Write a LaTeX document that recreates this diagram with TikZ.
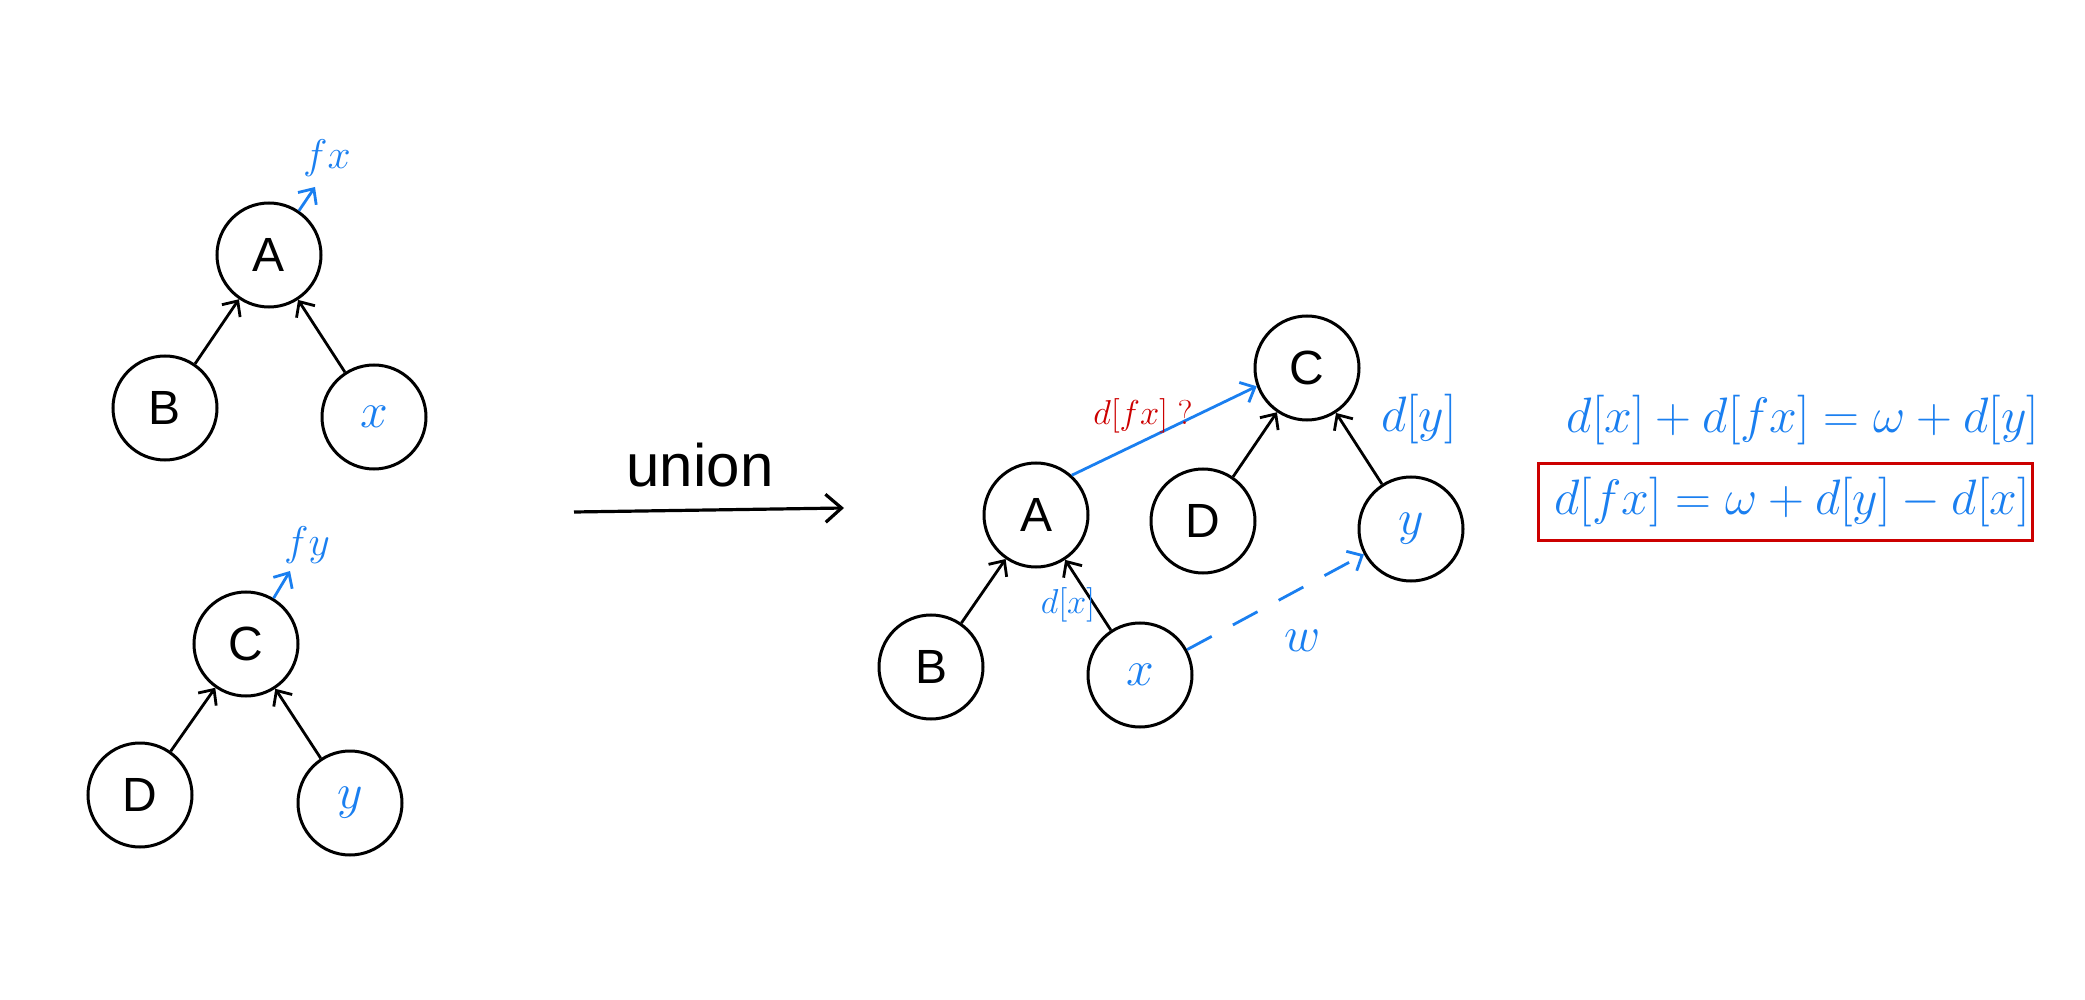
\documentclass[tikz,border=0pt]{standalone}
\usepackage{fontspec}
\newfontfamily\uni{Liberation Sans}
\usetikzlibrary{arrows.meta}
\definecolor{hblue}{HTML}{1A7FF0}
\definecolor{hred}{HTML}{CC0000}
\tikzset{
  nd/.style={circle, draw, line width=1.5pt, minimum size=52pt, inner sep=0pt, font=\uni\fontsize{24}{28}\selectfont},
  vn/.style={nd, text=hblue, font=\fontsize{30}{34}\selectfont},
  edge/.style={line width=1.4pt, -{Straight Barb[length=6pt,width=11pt]}},
  bedge/.style={edge, draw=hblue},
  lbl/.style={text=hblue, inner sep=0pt},
}
\begin{document}
\begin{tikzpicture}[x=0.5pt,y=-0.5pt]
\useasboundingbox (0,0) rectangle (2085,1000);
% left top tree
\node[nd] (A1) at (269,255) {A};
\node[nd] (B1) at (165,408) {B};
\node[vn] (x1) at (374,417) {$x$};
\node[lbl, font=\fontsize{20}{24}\selectfont] (fx) at (327,158) {$fx$};
\coordinate (fxe) at (315,187);
\draw[edge] (B1) -- (A1);
\draw[edge] (x1) -- (A1);
\draw[bedge] (A1) -- (fxe);
% left bottom tree
\node[nd] (C1) at (246,644) {C};
\node[nd] (D1) at (140,795) {D};
\node[vn] (y1) at (350,803) {$y$};
\node[lbl, font=\fontsize{20}{24}\selectfont] (fy) at (307,545) {$fy$};
\coordinate (fye) at (290,571);
\draw[edge] (D1) -- (C1);
\draw[edge] (y1) -- (C1);
\draw[bedge] (C1) -- (fye);
% union arrow
\node[font=\uni\fontsize{30}{34}\selectfont, inner sep=0pt] (un) at (700,465) {union};
\coordinate (ua) at (574,512);
\coordinate (ub) at (844,508);
\draw[line width=1.6pt, -{Straight Barb[length=8pt,width=14pt]}] (ua) -- (ub);
% right tree
\node[nd] (A2) at (1036,515) {A};
\node[nd] (B2) at (931,667) {B};
\node[vn] (x2) at (1140,675) {$x$};
\node[nd] (D2) at (1203,521) {D};
\node[nd] (C2) at (1307,368) {C};
\node[vn] (y2) at (1411,529) {$y$};
\draw[edge] (B2) -- (A2);
\draw[edge] (x2) -- (A2);
\draw[edge] (D2) -- (C2);
\draw[edge] (y2) -- (C2);
\draw[bedge] (A2.48) -- (C2.200);
\draw[bedge, dashed, dash pattern=on 14pt off 12pt] (x2) -- (y2);
\node[text=hred, inner sep=0pt, font=\fontsize{16}{20}\selectfont] (dfx) at (1143,416) {$d[fx]\ ?$};
\node[lbl, font=\fontsize{23}{27}\selectfont] (dy) at (1419,419) {$d[y]$};
\node[lbl, font=\fontsize{19}{22}\selectfont] (dx) at (1068,605) {$d[x]$};
\node[lbl, font=\fontsize{28}{32}\selectfont] (w) at (1303,641) {$w$};
% equations
\node[lbl, font=\fontsize{26}{30}\selectfont] (eq1) at (1803,420) {$d[x] + d[fx] = \omega + d[y]$};
\node[draw=hred, line width=1.5pt, minimum width=247pt, minimum height=38pt, inner sep=0pt, text=hblue, font=\fontsize{24.4}{29}\selectfont] (eq2) at (1785,502) {\hspace{7pt}$d[fx] = \omega + d[y] - d[x]$};
\end{tikzpicture}
\end{document}
